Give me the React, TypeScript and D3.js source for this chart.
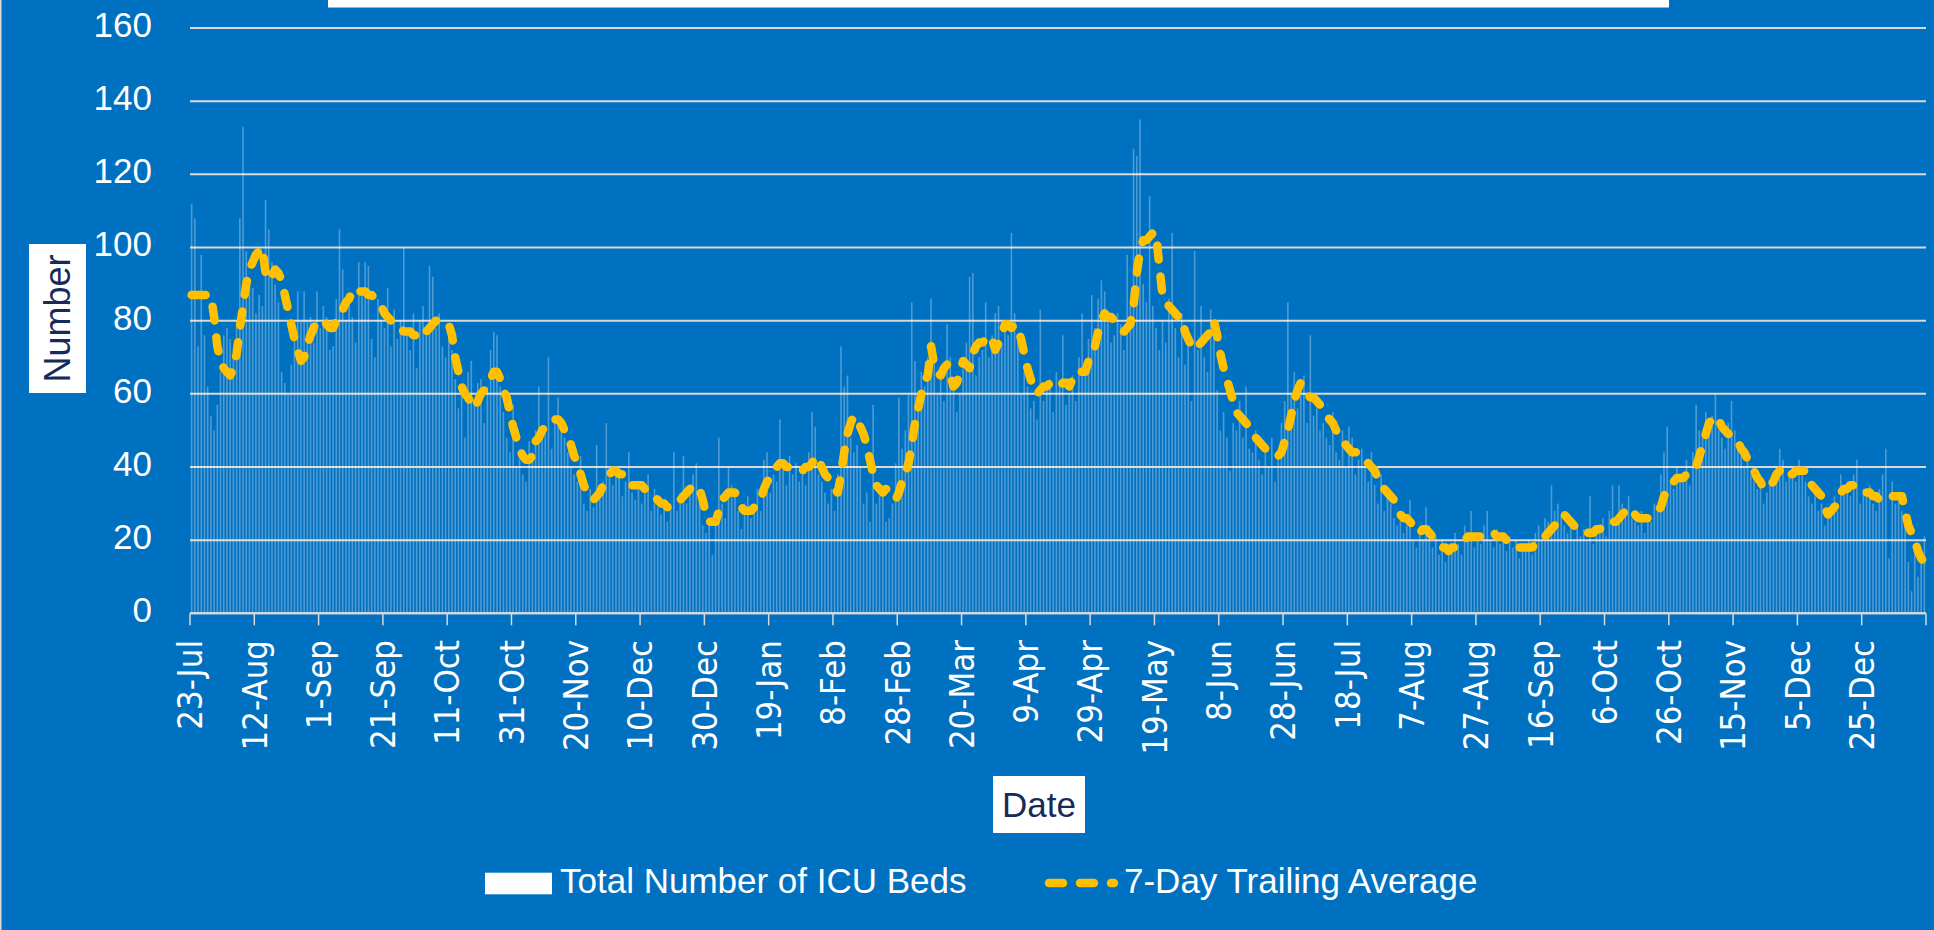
import React, { useEffect } from "react";
import * as d3 from "d3";

// ---- Data ----
const startLabels: string[] = [
  "23-Jul", "12-Aug", "1-Sep", "21-Sep", "11-Oct", "31-Oct", "20-Nov", "10-Dec", "30-Dec",
  "19-Jan", "8-Feb", "28-Feb", "20-Mar", "9-Apr", "29-Apr", "19-May", "8-Jun", "28-Jun",
  "18-Jul", "7-Aug", "27-Aug", "16-Sep", "6-Oct", "26-Oct", "15-Nov", "5-Dec", "25-Dec",
];
const yTicks: number[] = [0, 20, 40, 60, 80, 100, 120, 140, 160];

// daily ICU beds (540 days starting 23-Jul)
const icuBeds: number[] = [
  112,108,73,98,76,62,54,50,57,66,
  76,78,75,70,80,108,133,99,89,89,
  82,87,84,113,105,96,90,85,66,63,
  60,68,75,88,80,88,80,81,74,88,
  78,84,81,72,73,86,105,94,80,86,
  81,74,96,88,96,95,75,70,86,80,
  78,89,73,83,75,80,100,77,72,82,
  67,80,84,77,95,92,78,82,73,70,
  78,72,64,56,61,48,66,69,57,63,
  64,52,62,72,77,76,62,55,48,44,
  57,40,42,38,36,47,44,50,62,48,
  50,70,45,54,59,52,48,44,40,38,
  36,43,30,28,34,29,46,34,36,52,
  38,35,40,37,32,36,44,33,31,36,
  30,35,38,28,34,29,27,31,25,30,
  44,28,33,43,30,35,38,41,32,24,
  22,26,16,25,48,30,26,40,35,33,
  28,23,30,32,26,29,34,28,42,44,
  33,38,36,53,40,35,43,38,41,36,
  40,35,44,55,51,38,36,33,30,34,
  28,38,73,62,65,48,44,46,40,30,
  33,25,57,30,32,35,25,26,30,41,
  59,45,50,60,85,69,58,66,62,70,
  86,72,60,64,58,79,70,62,55,60,
  68,74,92,93,65,70,72,85,70,76,
  82,84,74,80,76,104,82,75,60,66,
  62,56,58,53,83,58,62,64,55,66,
  63,76,57,60,65,58,70,82,68,75,
  87,78,86,91,88,80,74,76,82,79,
  72,98,84,127,125,135,90,85,114,84,
  78,72,80,74,86,104,78,70,82,68,
  74,58,99,72,84,70,66,83,78,61,
  50,55,48,39,52,50,58,48,62,45,
  44,50,42,38,46,40,48,36,44,52,
  58,85,60,66,56,62,65,52,76,54,
  56,50,52,48,46,55,44,42,50,40,
  51,48,38,42,45,40,36,44,35,30,
  38,28,34,30,26,24,28,22,24,31,
  20,18,22,20,29,24,18,21,16,20,
  14,18,17,22,19,16,24,20,28,18,
  22,19,24,28,20,18,23,19,22,17,
  21,18,20,15,19,17,20,16,22,24,
  20,26,25,35,28,30,27,24,22,26,
  20,24,21,23,20,32,19,24,22,26,
  21,28,35,24,35,30,28,32,26,25,
  24,28,22,27,25,30,28,38,44,51,
  36,34,40,36,38,42,35,44,57,50,
  48,55,52,54,60,50,48,45,52,58,
  50,46,44,40,42,38,36,34,38,30,
  33,36,38,40,45,42,36,38,40,36,
  42,38,36,32,30,34,28,30,24,26,
  30,32,28,38,34,36,32,38,42,30,
  34,32,35,30,28,34,38,45,15,36,
  30,33,28,24,14,6,18,10,14,21,
];

// 7-day trailing average (as drawn)
const trailingAvg: number[] = [
  87,87,87,87,87,87,87,81,73,69,
  67,66,65,67,71,78,84,90,94,96,
  98,99,100,93,91,92,94,93,91,87,
  83,79,75,72,69,70,73,76,78,80,
  80,80,79,78,78,80,82,83,85,86,
  88,89,88,88,88,87,87,86,85,84,
  82,81,80,79,79,78,77,77,77,76,
  76,77,76,77,78,79,80,80,80,79,
  79,76,70,66,62,60,59,57,56,58,
  60,61,62,64,66,66,64,61,59,55,
  51,48,45,43,42,42,43,47,48,50,
  51,52,53,53,53,52,50,49,46,43,
  41,38,35,33,32,31,32,33,35,37,
  38,39,39,38,38,38,37,35,35,35,
  35,34,34,33,32,31,30,30,29,29,
  30,31,31,32,33,34,35,35,34,31,
  27,25,25,25,28,31,32,33,33,33,
  31,29,28,28,28,29,30,31,34,36,
  37,38,40,41,41,40,40,40,39,39,
  39,40,40,41,43,42,40,38,37,36,
  34,33,38,44,49,52,54,53,51,49,
  46,42,38,35,34,33,34,33,32,31,
  33,36,38,41,46,52,56,60,63,65,
  73,68,66,65,67,68,65,62,63,66,
  69,68,67,71,73,74,74,75,76,75,
  72,74,76,79,79,78,79,78,75,71,
  67,64,61,60,61,62,62,63,62,62,
  62,63,63,62,64,66,66,66,66,69,
  71,73,77,80,82,81,81,80,79,78,
  77,78,79,84,93,99,102,102,103,104,
  104,95,87,85,84,83,82,81,81,77,
  75,73,72,73,74,75,76,77,80,76,
  71,67,64,61,58,55,54,53,52,51,
  50,48,47,46,45,44,44,43,43,44,
  47,50,54,58,61,63,62,60,59,59,
  58,57,56,54,53,52,50,49,48,46,
  45,44,44,44,43,42,41,40,39,37,
  36,34,33,32,31,29,27,26,26,25,
  24,22,22,23,23,22,21,20,19,18,
  18,17,18,18,19,19,20,21,21,21,
  21,21,21,21,22,22,21,21,21,20,
  20,19,19,18,18,18,18,18,19,20,
  20,21,22,23,24,26,27,27,26,25,
  24,23,23,22,22,22,22,23,23,24,
  24,24,25,25,26,27,28,29,28,27,
  26,26,26,26,26,27,28,29,32,34,
  35,36,37,37,37,38,38,39,40,43,
  46,49,52,53,54,53,51,50,49,49,
  48,47,45,44,42,41,39,37,36,34,
  34,35,36,38,39,40,39,38,38,39,
  39,39,39,37,35,34,33,32,29,27,
  28,29,30,33,34,34,35,35,34,34,
  33,33,33,32,32,31,31,32,32,32,
  32,32,32,28,24,22,20,17,15,14,
];

const LABEL_EVERY = 20;

const SANS = "'Liberation Sans', Arial, sans-serif";
const WIDE = "'DejaVu Sans', Verdana, sans-serif";
const BG = "#0070C0";
const GRID = "#D9D9D9";
const YELLOW = "#FFC000";
const NAVY = "#172B5A";

export default function App() {
  useEffect(() => {
    document.body.style.margin = "0";
  }, []);

  const W = 1934;
  const H = 930;
  const nDays = icuBeds.length;
  const left = 190;
  const right = 1926;
  const x = d3.scaleLinear().domain([0, nDays]).range([left, right]);
  const y = d3.scaleLinear().domain([0, 160]).range([613.3, 28]);
  const step = x(1) - x(0);
  const barW = step * 0.5;

  const line = d3
    .line<number>()
    .x((_, i) => x(i + 0.5))
    .y((d) => y(d));

  const tickDays = d3.range(0, nDays + 1, LABEL_EVERY);

  return (
    <svg
      width={W}
      height={H}
      viewBox={`0 0 ${W} ${H}`}
      style={{ display: "block", position: "absolute", left: 0, top: 0 }}
    >
      <rect x={0} y={0} width={W} height={H} fill={BG} />
      <rect x={0} y={0} width={1.5} height={H} fill={GRID} />
      {/* title box (empty, cut at top) */}
      <rect x={328} y={0} width={1341} height={7.5} fill="#FFFFFF" />

      {/* gridlines */}
      {yTicks.map((t) => (
        <line key={"g" + t} x1={left} x2={right} y1={y(t)} y2={y(t)} stroke={GRID} strokeWidth={2} />
      ))}

      {/* bars */}
      <g fill="#FFFFFF" fillOpacity={0.3}>
        {icuBeds.map((v, i) => (
          <rect key={i} x={x(i + 0.5) - barW / 2} y={y(v)} width={barW} height={y(0) - y(v)} />
        ))}
      </g>

      {/* x axis */}
      <line x1={left} x2={right} y1={y(0)} y2={y(0)} stroke={GRID} strokeWidth={2} />
      {tickDays.map((d) => (
        <line key={"t" + d} x1={x(d)} x2={x(d)} y1={y(0)} y2={y(0) + 12} stroke={GRID} strokeWidth={1.5} />
      ))}
      {startLabels.map((lab, k) => (
        <text
          key={"xl" + k}
          transform={`translate(${x(k * LABEL_EVERY)},640) rotate(-90) scale(1,1.1)`}
          textAnchor="end"
          dy="0.36em"
          fontFamily={WIDE}
          fontSize={31}
          fill="#FFFFFF"
        >
          {lab}
        </text>
      ))}

      {/* y tick labels */}
      {yTicks.map((t) => (
        <text
          key={"yl" + t}
          x={152}
          y={y(t) + 9}
          textAnchor="end"
          fontFamily={SANS}
          fontSize={35}
          fill="#FFFFFF"
        >
          {t}
        </text>
      ))}

      {/* trailing average line */}
      <path
        d={line(trailingAvg) || ""}
        fill="none"
        stroke={YELLOW}
        strokeWidth={8.5}
        strokeLinecap="round"
        strokeLinejoin="round"
        strokeDasharray="14 17"
      />

      {/* axis titles */}
      <rect x={29} y={244} width={57} height={149} fill="#FFFFFF" />
      <text
        transform="translate(70,318.5) rotate(-90)"
        textAnchor="middle"
        fontFamily={SANS}
        fontSize={36}
        fill={NAVY}
      >
        Number
      </text>
      <rect x={993} y={776} width={92} height={57} fill="#FFFFFF" />
      <text x={1039} y={816.5} textAnchor="middle" fontFamily={SANS} fontSize={35} fill={NAVY}>
        Date
      </text>

      {/* legend */}
      <rect x={485} y={872.7} width={67} height={21.6} fill="#FFFFFF" />
      <text x={560} y={893} fontFamily={SANS} fontSize={35} fill="#FFFFFF">
        Total Number of ICU Beds
      </text>
      <line
        x1={1049}
        x2={1114}
        y1={883}
        y2={883}
        stroke={YELLOW}
        strokeWidth={8.5}
        strokeLinecap="round"
        strokeDasharray="14 17"
      />
      <text x={1124} y={893} fontFamily={SANS} fontSize={35} fill="#FFFFFF">
        7-Day Trailing Average
      </text>
    </svg>
  );
}
